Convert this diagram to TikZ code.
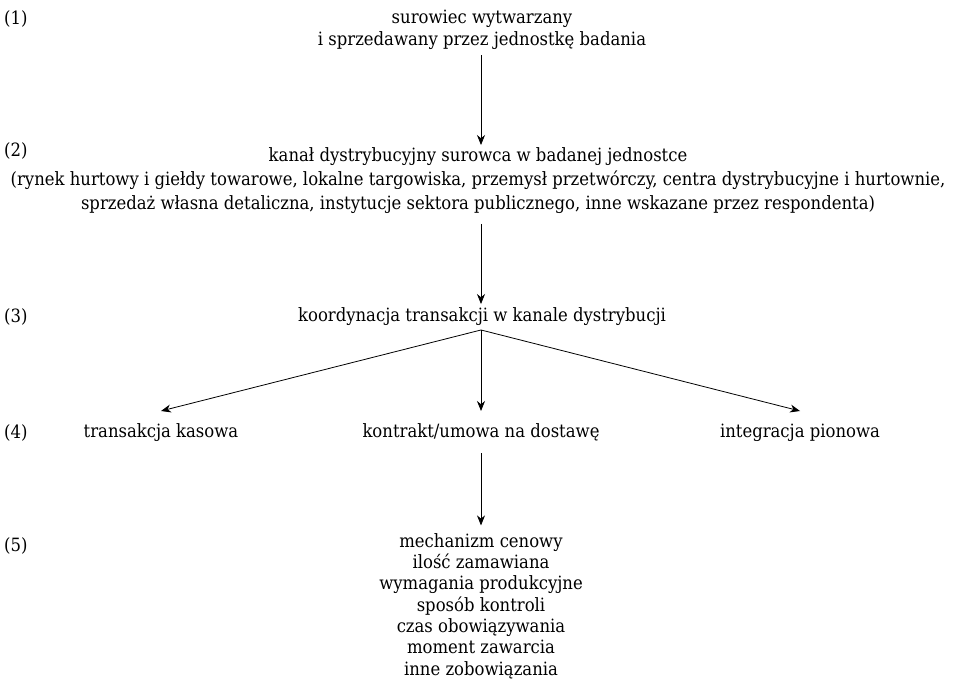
\documentclass[tikz,border=0pt]{standalone}
\usepackage{fontspec}
\setmainfont{DejaVu Serif Condensed}
\usetikzlibrary{arrows.meta}
\begin{document}
\begin{tikzpicture}[x=1pt,y=-1pt,
  txt/.style={font=\fontsize{18.3}{24}\selectfont, align=center, inner sep=2pt},
  opt/.style={txt, text height=14pt, text depth=4pt, outer ysep=10pt},
  lbl/.style={font=\fontsize{18.3}{24}\selectfont, anchor=west, inner sep=0pt},
  lst/.style={font=\fontsize{18.3}{21.3}\selectfont, align=center, inner sep=2pt},
  arr/.style={-{Stealth[length=10pt,width=8pt]}, line width=0.8pt}]
\useasboundingbox (0,0) rectangle (953,679);
\node[lbl] (l1) at (4,19) {(1)};
\node[lbl] (l2) at (4,151) {(2)};
\node[lbl] (l3) at (4,317) {(3)};
\node[lbl] (l4) at (4,433) {(4)};
\node[lbl] (l5) at (4,546) {(5)};
\node[txt, font=\fontsize{18.3}{22}\selectfont] (n1) at (482,30) {surowiec wytwarzany\\i sprzedawany przez jednostkę badania};
\node[txt, outer ysep=1pt] (n2) at (478,181) {kanał dystrybucyjny surowca w badanej jednostce\\(rynek hurtowy i giełdy towarowe, lokalne targowiska, przemysł przetwórczy, centra dystrybucyjne i hurtownie,\\sprzedaż własna detaliczna, instytucje sektora publicznego, inne wskazane przez respondenta)};
\node[txt, outer ysep=2pt] (n3) at (482,317) {koordynacja transakcji w kanale dystrybucji};
\node[opt] (n4a) at (161,432) {transakcja kasowa};
\node[opt] (n4b) at (481,432) {kontrakt/umowa na dostawę};
\node[opt] (n4c) at (800,432) {integracja pionowa};
\node[lst, outer ysep=6pt] (n5) at (481,606) {mechanizm cenowy\\ilość zamawiana\\wymagania produkcyjne\\sposób kontroli\\czas obowiązywania\\moment zawarcia\\inne zobowiązania};
\draw[arr, shorten <=3.5pt] (n1.south -| 481,0) -- (n2.north -| 481,0);
\draw[arr, shorten <=7pt] (n2.south -| 481,0) -- (n3.north -| 481,0);
\coordinate (c3) at (n3.south -| 481,0);
\draw[arr] (c3) -- (n4a.north);
\draw[arr] (c3) -- (n4b.north);
\draw[arr] (c3) -- (n4c.north);
\draw[arr] (n4b.south) -- (n5.north);
\end{tikzpicture}
\end{document}
